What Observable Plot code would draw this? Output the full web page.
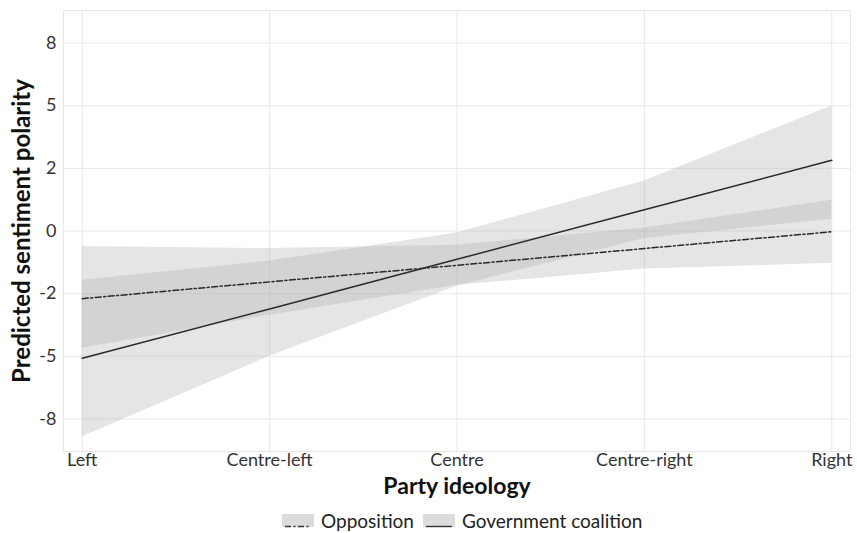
<!DOCTYPE html>
<html>
<head>
<meta charset="utf-8">
<script src="https://cdn.jsdelivr.net/npm/d3@7"></script>
<script src="https://cdn.jsdelivr.net/npm/@observablehq/plot@0.6"></script>
<style>
  html, body { margin: 0; padding: 0; background: #fff; }
  #wrap { position: relative; width: 857px; height: 533px; font-family: Lato, "Open Sans", sans-serif; }
  #legend { position: absolute; left: 282px; top: 509px; display: flex; align-items: center; font-size: 19px; color: #222; white-space: nowrap; }
  #legend .key { width: 32px; height: 13px; background: #dcdcdc; margin-right: 7px; }
  #legend .item { display: flex; align-items: center; margin-right: 9px; }
</style>
</head>
<body>
<div id="wrap"></div>
<script>
// ---- data ----
const ideology = ["Left", "Centre-left", "Centre", "Centre-right", "Right"];
const ideologyPos = [1, 2, 3, 4, 5];
const oppFit  = [-2.70, -2.03, -1.37, -0.70, -0.03];
const oppLow  = [-4.68, -3.36, -2.17, -1.52, -1.29];
const oppHigh = [-0.62, -0.70, -0.57,  0.12,  1.23];
const govFit  = [-5.08, -3.11, -1.13,  0.85,  2.82];
const govLow  = [-8.22, -5.00, -2.20, -0.30,  0.47];
const govHigh = [-1.97, -1.20, -0.08,  2.00,  4.99];
const groups = ["Opposition", "Government coalition"];
const yTicks = [-7.5, -5, -2.5, 0, 2.5, 5, 7.5];
const yTickLabels = ["-8", "-5", "-2", "0", "2", "5", "8"];

const rows = [];
ideologyPos.forEach((p, i) => {
  rows.push({g: groups[0], x: p, fit: oppFit[i], lo: oppLow[i], hi: oppHigh[i]});
});
ideologyPos.forEach((p, i) => {
  rows.push({g: groups[1], x: p, fit: govFit[i], lo: govLow[i], hi: govHigh[i]});
});
const opp = rows.filter(d => d.g === groups[0]);
const gov = rows.filter(d => d.g === groups[1]);

const chart = Plot.plot({
  width: 857,
  height: 505,
  marginLeft: 63,
  marginRight: 7,
  marginTop: 10,
  marginBottom: 54,
  style: {fontFamily: "Lato, 'Open Sans', sans-serif", fontSize: "18px", background: "white", overflow: "visible"},
  x: {domain: [0.9, 5.1]},
  y: {domain: [-8.8, 8.8]},
  marks: [
    Plot.gridX(ideologyPos, {stroke: "#e8e8e8", strokeOpacity: 1, strokeWidth: 1}),
    Plot.gridY(yTicks, {stroke: "#e8e8e8", strokeOpacity: 1, strokeWidth: 1}),
    Plot.frame({stroke: "#e6e6e6"}),
    Plot.areaY(rows, {x: "x", y1: "lo", y2: "hi", z: "g", fill: "#b0b0b0", fillOpacity: 0.33}),
    Plot.line(opp, {x: "x", y: "fit", stroke: "#2a2a2a", strokeWidth: 1.5, strokeDasharray: "6,2.5,2,2.5"}),
    Plot.line(gov, {x: "x", y: "fit", stroke: "#2a2a2a", strokeWidth: 1.5}),
    Plot.axisX(ideologyPos, {tickSize: 0, tickPadding: 2, tickFormat: (d) => ideology[d - 1], label: null, fontSize: 18, fill: "#333"}),
    Plot.axisY(yTicks, {tickSize: 0, tickPadding: 7, tickFormat: (d) => yTickLabels[yTicks.indexOf(d)], label: null, fontSize: 18, fill: "#333"}),
    Plot.text(["Party ideology"], {frameAnchor: "bottom", dy: 42, fontSize: 23, fontWeight: "bold", fill: "#111"}),
    Plot.text(["Predicted sentiment polarity"], {frameAnchor: "left", textAnchor: "middle", dx: -41, rotate: -90, fontSize: 24, fontWeight: "bold", fill: "#111"})
  ]
});

const wrap = document.getElementById("wrap");
wrap.appendChild(chart);

const legend = document.createElement("div");
legend.id = "legend";
legend.innerHTML = `
  <div class="item"><div class="key"><svg width="32" height="13"><line x1="3" x2="29" y1="6.5" y2="6.5" stroke="#333" stroke-width="1.4" stroke-dasharray="6,2.5,2,2.5"/></svg></div><span>${groups[0]}</span></div>
  <div class="item"><div class="key"><svg width="32" height="13"><line x1="3" x2="29" y1="6.5" y2="6.5" stroke="#333" stroke-width="1.4"/></svg></div><span>${groups[1]}</span></div>`;
wrap.appendChild(legend);
</script>
</body>
</html>
